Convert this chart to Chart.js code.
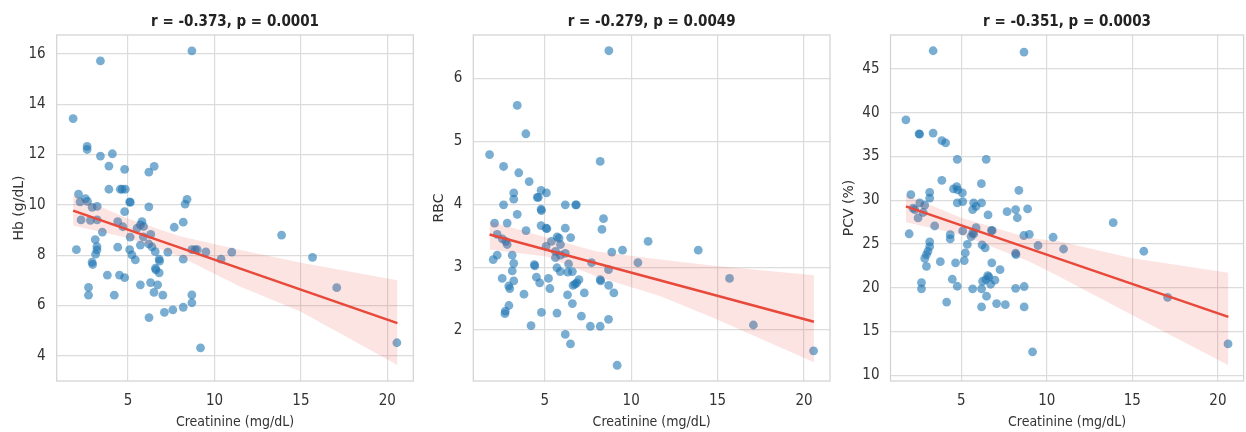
<!DOCTYPE html>
<html><head><meta charset="utf-8">
<script src="https://cdn.jsdelivr.net/npm/chart.js@4.4.1/dist/chart.umd.min.js"></script>
<style>
html,body{margin:0;padding:0;background:#fff;width:1246px;height:432px;overflow:hidden;position:relative}
.p{position:absolute;top:0}
canvas{display:block}
</style></head><body>
<div class="p" style="left:0px"><canvas id="c1" width="420" height="432"></canvas></div>
<div class="p" style="left:420px"><canvas id="c2" width="420" height="432"></canvas></div>
<div class="p" style="left:830px"><canvas id="c3" width="418" height="432"></canvas></div>
<script>
// ---- tick labels ----
const creatinineTicks = [5, 10, 15, 20];
const hbTicks = [4, 6, 8, 10, 12, 14, 16];
const rbcTicks = [2, 3, 4, 5, 6];
const pcvTicks = [10, 15, 20, 25, 30, 35, 40, 45];

const titles = ["r = -0.373, p = 0.0001", "r = -0.279, p = 0.0049", "r = -0.351, p = 0.0003"];
const xLabel = "Creatinine (mg/dL)";
const yLabels = ["Hb (g/dL)", "RBC", "PCV (%)"];

// ---- Hb panel ----
const hbCreat = [8.69,3.40,1.82,2.63,2.63,3.40,4.09,3.89,4.80,6.20,
  6.51,3.89,4.55,4.66,4.84,2.13,2.22,2.53,2.65,2.92,
  3.21,5.09,5.13,4.80,6.20,8.30,8.41,2.28,2.82,3.21,
  4.40,4.70,3.51,5.71,5.80,5.90,5.52,6.31,5.88,5.12,
  7.67,8.19,2.01,3.10,3.20,3.20,3.12,2.92,2.95,4.40,
  5.09,5.22,5.42,5.71,6.19,6.38,6.57,6.80,6.82,6.58,
  6.61,6.80,7.30,8.19,8.69,8.88,9.00,9.50,10.38,11.00,
  13.88,15.67,17.07,20.55,3.80,4.50,4.80,2.71,2.71,4.20,
  5.71,6.30,6.50,6.71,7.01,6.21,7.10,7.59,8.19,8.69,
  8.69,9.19];
const hbValues = [16.12,15.72,13.43,12.32,12.20,11.94,12.03,11.54,11.41,11.30,
  11.53,10.62,10.62,10.62,10.62,10.43,10.12,10.25,10.14,9.90,
  9.94,10.12,10.10,9.73,9.92,10.03,10.22,9.40,9.38,9.40,
  9.33,9.13,8.92,9.20,9.33,9.14,9.07,8.83,8.73,8.72,
  9.11,9.31,8.22,8.62,8.34,8.21,8.04,7.72,7.63,8.32,
  8.22,8.01,7.81,8.40,8.45,8.33,8.14,7.84,7.76,7.48,
  7.42,7.30,8.12,7.84,8.22,8.22,8.22,8.13,7.84,8.12,
  8.80,7.91,6.71,4.52,7.21,7.21,7.11,6.72,6.41,6.41,
  6.82,6.91,6.52,6.82,6.41,5.52,5.73,5.83,5.93,6.42,
  6.11,4.32];
const hbFitX = [1.82, 20.58];
const hbFitY = [9.77, 5.30];
const hbBandX = [1.82, 5, 8, 11.5, 15, 20.58];
const hbBandLo = [9.18, 8.68, 7.95, 6.75, 5.75, 3.64];
const hbBandHi = [10.40, 9.45, 8.75, 8.21, 7.70, 7.00];

// ---- RBC panel ----
const rbcCreat = [8.71,3.41,3.91,1.81,2.62,8.21,3.50,4.10,3.21,3.21,
  4.79,4.57,4.63,5.10,2.62,3.41,4.79,4.81,6.19,6.79,
  6.83,8.40,8.31,2.10,2.83,3.92,4.79,5.08,5.13,6.19,
  2.25,2.55,2.75,2.83,5.72,5.83,5.39,6.50,5.08,5.91,
  5.62,5.62,5.91,6.19,10.98,8.88,9.50,13.88,2.02,2.25,
  3.12,3.21,4.40,4.43,7.71,10.39,6.38,5.71,5.90,6.33,
  6.60,8.69,3.12,2.54,4.52,4.71,5.22,5.30,3.21,2.92,
  2.98,8.21,8.24,6.98,6.85,6.75,6.64,8.70,15.69,9.00,
  7.29,6.32,3.80,6.60,2.93,2.72,2.70,4.81,5.71,7.12,
  4.21,7.64,8.21,8.69,17.07,6.19,6.49,9.19,20.55];
const rbcValues = [6.44,5.57,5.12,4.79,4.60,4.68,4.50,4.36,4.18,4.08,
  4.22,4.11,4.11,4.18,3.99,3.84,3.92,3.90,3.99,3.99,
  3.99,3.77,3.60,3.70,3.70,3.58,3.66,3.62,3.61,3.62,
  3.52,3.45,3.41,3.36,3.48,3.46,3.41,3.47,3.33,3.36,
  3.25,3.15,3.19,3.22,3.41,3.24,3.27,3.27,3.12,3.19,
  3.19,3.06,3.04,3.02,3.07,3.07,3.05,2.99,2.93,2.92,
  2.93,2.96,2.94,2.82,2.84,2.75,2.82,2.66,2.78,2.70,
  2.66,2.80,2.78,2.80,2.75,2.73,2.71,2.71,2.82,2.59,
  2.59,2.56,2.57,2.42,2.39,2.30,2.26,2.28,2.27,2.22,
  2.07,2.06,2.06,2.17,2.08,1.93,1.78,1.44,1.67];
const rbcFitX = [1.81, 20.57];
const rbcFitY = [3.52, 2.13];
const rbcBandX = [1.81, 5.1, 8, 11.67, 14.94, 20.57];
const rbcBandLo = [3.28, 3.17, 2.85, 2.54, 2.17, 1.49];
const rbcBandHi = [3.73, 3.47, 3.25, 3.12, 3.02, 2.87];

// ---- PCV panel ----
const pcvCreat = [3.36,8.67,1.77,2.54,2.57,3.36,3.87,4.09,4.77,6.46,
  3.87,6.18,8.37,4.55,4.74,4.80,5.07,3.16,3.16,2.06,
  4.77,5.09,5.73,5.87,5.67,6.19,6.57,7.68,8.18,8.28,
  8.88,2.58,2.29,2.87,2.78,2.48,2.19,3.45,1.96,4.36,
  4.36,5.09,5.87,5.67,5.58,5.73,5.36,5.24,5.18,6.22,
  6.40,6.77,6.81,6.79,7.27,3.16,3.16,3.06,2.97,2.87,
  2.97,3.78,4.67,4.48,4.77,2.68,2.68,4.15,5.67,6.19,
  6.25,6.44,6.62,6.55,6.97,6.72,6.48,6.19,7.07,7.58,
  8.18,8.68,8.68,8.18,8.20,8.66,8.98,9.49,10.37,10.98,
  13.88,15.67,17.06,20.59,9.17];
const pcvValues = [47.09,46.94,39.19,37.59,37.57,37.68,36.81,36.55,34.68,34.68,
  32.28,31.90,31.13,31.29,31.55,31.18,30.84,30.90,30.24,30.64,
  29.69,29.85,29.69,29.31,28.93,29.69,28.32,28.70,28.93,28.00,
  29.01,29.69,28.93,29.45,28.60,27.98,29.10,27.06,26.17,26.07,
  25.58,26.50,26.86,26.27,25.85,26.15,24.95,23.98,23.10,24.90,
  24.55,26.56,26.52,22.85,22.07,25.25,24.70,24.17,23.79,23.35,
  22.45,22.98,22.85,20.97,20.17,20.58,19.88,18.36,19.88,19.88,
  20.74,20.93,21.24,21.39,20.87,20.40,19.03,17.81,18.19,18.06,
  19.93,20.14,17.81,23.95,23.79,25.97,26.10,24.83,25.77,24.43,
  27.44,24.17,18.91,13.58,12.67];
const pcvFitX = [1.77, 20.61];
const pcvFitY = [29.3, 16.67];
const pcvBandX = [1.77, 5, 8.95, 10.69, 14.93, 20.61];
const pcvBandLo = [27.48, 26.07, 23.02, 21.3, 16.93, 11.14];
const pcvBandHi = [30.64, 28.0, 25.69, 25.31, 23.41, 21.70];

// ---- styling ----
const FONT = "'DejaVu Sans Condensed', 'DejaVu Sans', sans-serif";
const TXT = '#333333';
const GRID = '#dcdcdc';
const PT = 'rgba(31,119,180,0.6)';
const RED = '#e8493a';
const BAND = 'rgba(231,76,60,0.15)';

const framePlugin = {
  id: 'frame',
  beforeDatasetsDraw(chart) {
    const {ctx, chartArea: a} = chart;
    ctx.save();
    ctx.strokeStyle = '#d3d3d3';
    ctx.lineWidth = 1.25;
    ctx.strokeRect(a.left, a.top, a.right - a.left, a.bottom - a.top);
    ctx.restore();
  }
};

const zip = (xs, ys) => xs.map((x, i) => ({x: x, y: ys[i]}));

function panel(id, cfg) {
  new Chart(document.getElementById(id), {
    type: 'scatter',
    data: {
      datasets: [
        {type: 'line', data: zip(cfg.fitX, cfg.fitY), borderColor: RED, borderWidth: 2.6,
         pointRadius: 0, fill: false, tension: 0, order: 1},
        {type: 'line', data: zip(cfg.bandX, cfg.bandHi), borderWidth: 0, borderColor: 'rgba(0,0,0,0)',
         backgroundColor: BAND, pointRadius: 0, fill: '+1', tension: 0, order: 2},
        {type: 'line', data: zip(cfg.bandX, cfg.bandLo), borderWidth: 0, borderColor: 'rgba(0,0,0,0)',
         pointRadius: 0, fill: false, tension: 0, order: 2},
        {type: 'scatter', data: zip(cfg.xs, cfg.ys), backgroundColor: PT, borderWidth: 0,
         pointRadius: 4.4, order: 3}
      ]
    },
    options: {
      responsive: false, animation: false, devicePixelRatio: 1,
      layout: {padding: {left: 0, right: cfg.padR, top: 0, bottom: 0}},
      plugins: {
        legend: {display: false}, tooltip: {enabled: false},
        title: {display: true, text: cfg.title, fullSize: false, color: '#222222',
                font: {family: FONT, size: 15, weight: 'bold', lineHeight: 1.2},
                padding: {top: 13, bottom: 4}}
      },
      scales: {
        x: {type: 'linear', min: 0.87, max: 21.5,
            afterBuildTicks: s => { s.ticks = creatinineTicks.map(v => ({value: v})); },
            afterFit: s => { s.height = 51; },
            grid: {color: GRID, lineWidth: 1.2, drawTicks: false},
            border: {display: false},
            ticks: {color: TXT, padding: 11, font: {family: FONT, size: 15}, maxRotation: 0},
            title: {display: true, text: xLabel, color: TXT, padding: {top: 0, bottom: 1.5},
                    font: {family: FONT, size: 14, lineHeight: 1.2}}},
        y: {type: 'linear', min: cfg.yMin, max: cfg.yMax,
            afterBuildTicks: s => { s.ticks = cfg.yTicks.map(v => ({value: v})); },
            afterFit: s => { s.width = cfg.yW; },
            grid: {color: GRID, lineWidth: 1.2, drawTicks: false},
            border: {display: false},
            ticks: {color: TXT, padding: 11, font: {family: FONT, size: 15}},
            title: {display: true, text: cfg.yLabel, color: TXT, padding: {top: 10.5, bottom: 0},
                    font: {family: "'DejaVu Sans', sans-serif", size: 14, lineHeight: 1.2}}}
      }
    },
    plugins: [framePlugin]
  });
}

panel('c1', {title: titles[0], yLabel: yLabels[0], xs: hbCreat, ys: hbValues,
  fitX: hbFitX, fitY: hbFitY, bandX: hbBandX, bandLo: hbBandLo, bandHi: hbBandHi,
  yMin: 3.0, yMax: 16.75, yTicks: hbTicks, yW: 56.7, padR: 6.7});
panel('c2', {title: titles[1], yLabel: yLabels[1], xs: rbcCreat, ys: rbcValues,
  fitX: rbcFitX, fitY: rbcFitY, bandX: rbcBandX, bandLo: rbcBandLo, bandHi: rbcBandHi,
  yMin: 1.19, yMax: 6.69, yTicks: rbcTicks, yW: 53.3, padR: 10});
panel('c3', {title: titles[2], yLabel: yLabels[2], xs: pcvCreat, ys: pcvValues,
  fitX: pcvFitX, fitY: pcvFitY, bandX: pcvBandX, bandLo: pcvBandLo, bandHi: pcvBandHi,
  yMin: 9.34, yMax: 48.89, yTicks: pcvTicks, yW: 60.5, padR: 0.9});
</script>
</body></html>
